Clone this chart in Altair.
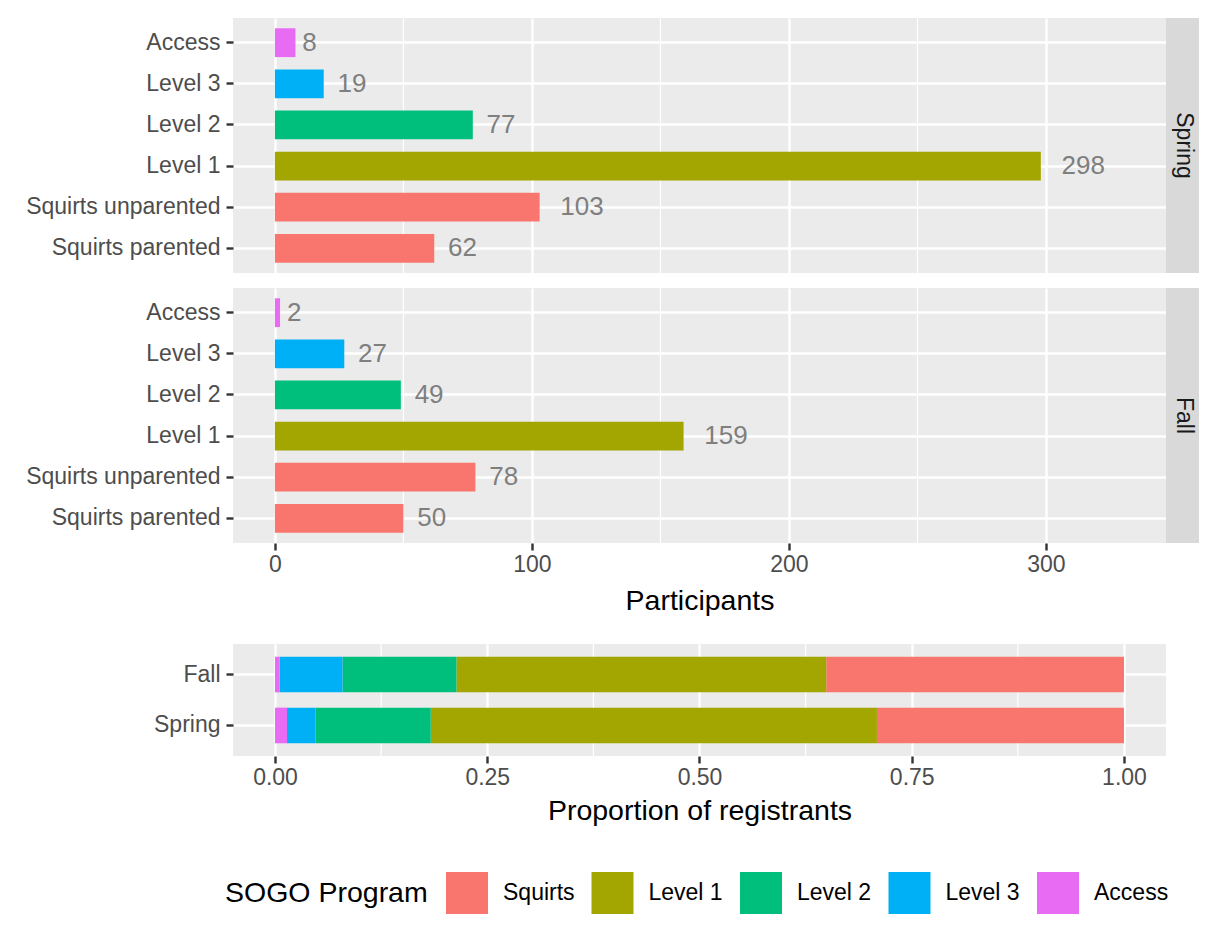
import altair as alt
import pandas as pd

# ---------------- data ----------------
categories = ["Squirts parented", "Squirts unparented", "Level 1", "Level 2", "Level 3", "Access"]
category_program = ["Squirts", "Squirts", "Level 1", "Level 2", "Level 3", "Access"]
spring_counts = [62, 103, 298, 77, 19, 8]
fall_counts = [50, 78, 159, 49, 27, 2]
seasons = ["Spring", "Fall"]
programs = ["Squirts", "Level 1", "Level 2", "Level 3", "Access"]
program_colors = ["#F8766D", "#A3A500", "#00BF7D", "#00B0F6", "#E76BF3"]
participant_ticks = [0, 100, 200, 300]
proportion_ticks = [0, 0.25, 0.5, 0.75, 1.0]

rows = []
for season, counts in zip(seasons, [spring_counts, fall_counts]):
    for cat, prog, n in zip(categories, category_program, counts):
        rows.append({"season": season, "category": cat, "program": prog, "n": n,
                     "stack_rank": programs[::-1].index(prog)})
df = pd.DataFrame(rows)

def midpoints(t):
    return [(a + b) / 2 for a, b in zip(t, t[1:])]

minor_counts = pd.DataFrame({"v": midpoints(participant_ticks)})
minor_props = pd.DataFrame({"v": midpoints(proportion_ticks)})

# ---------------- style ----------------
FONT = "Liberation Sans"
W, H = 933, 255
H2 = 112
STRIP = 33
GRID_MAJOR = 2.4
GRID_MINOR = 1.2
AXIS_TEXT = "#4D4D4D"
TICK = "#333333"

cat_order = list(reversed(categories))
count_domain = [-16.3, 346.7]
prop_domain = [-0.0495, 1.0495]

legend = alt.Legend(
    title="SOGO Program", orient="none", legendX=-8, legendY=854,
    direction="horizontal", titleOrient="left", titleAnchor="middle",
    titleFontSize=28.5, titleFontWeight="normal", titleColor="black", titlePadding=18,
    titleFont=FONT, labelFont=FONT, titleLimit=0, labelLimit=0,
    labelFontSize=23, labelColor="black", labelOffset=15, labelBaseline="middle",
    symbolType="square", symbolSize=1764, symbolStrokeWidth=0, symbolOpacity=1,
    columnPadding=16.5, padding=0,
)
color_enc = alt.Color("program:N", scale=alt.Scale(domain=programs, range=program_colors),
                      legend=legend)


def count_x_axis(show):
    if show:
        return alt.Axis(values=participant_ticks, grid=True, title="Participants",
                        titlePadding=10)
    return alt.Axis(values=participant_ticks, grid=True, labels=False, ticks=False, title=None)


def count_panel(season, show_x):
    xscale = alt.Scale(domain=count_domain, nice=False, zero=False)
    y_enc = alt.Y("category:N", sort=cat_order,
                  scale=alt.Scale(paddingInner=0.3, paddingOuter=0.25),
                  axis=alt.Axis(title=None, grid=True))
    data = df[df["season"] == season]

    minor = alt.Chart(minor_counts).mark_rule(color="white", strokeWidth=GRID_MINOR).encode(
        x=alt.X("v:Q", scale=xscale, axis=count_x_axis(show_x))
    )
    bars = alt.Chart(data).mark_bar().encode(
        x=alt.X("n:Q", scale=xscale, axis=count_x_axis(show_x)),
        y=y_enc,
        color=color_enc,
    )
    labels = alt.Chart(data).transform_calculate(
        label_x="datum.n + 5.5 * length(toString(datum.n))"
    ).mark_text(align="center", baseline="middle", fontSize=26, color="#7F7F7F", font=FONT).encode(
        x=alt.X("label_x:Q", scale=xscale, axis=count_x_axis(show_x)),
        y=y_enc,
        text="n:Q",
    )
    strip_df = pd.DataFrame({"season": [season]})
    strip = alt.Chart(strip_df).mark_rect(color="#D9D9D9").encode(
        x=alt.value(W), x2=alt.value(W + STRIP), y=alt.value(0), y2=alt.value(H)
    )
    strip_text = alt.Chart(strip_df).mark_text(
        angle=90, fontSize=23, color="#1A1A1A", baseline="middle", align="center", font=FONT
    ).encode(x=alt.value(W + 18), y=alt.value(H / 2), text="season:N")
    return alt.layer(minor, bars, labels, strip, strip_text).properties(width=W, height=H)


spring_panel = count_panel("Spring", False)
fall_panel = count_panel("Fall", True)

# ---------------- proportion chart ----------------
pscale = alt.Scale(domain=prop_domain, nice=False, zero=False)
p_axis = alt.Axis(values=proportion_ticks, format=".2f", grid=True,
                  title="Proportion of registrants", titlePadding=7)
pminor = alt.Chart(minor_props).mark_rule(color="white", strokeWidth=GRID_MINOR).encode(
    x=alt.X("v:Q", scale=pscale, axis=p_axis)
)
pbars = alt.Chart(df).transform_aggregate(
    total="sum(n)", groupby=["season", "program", "stack_rank"]
).mark_bar().encode(
    x=alt.X("total:Q", stack="normalize", scale=pscale, axis=p_axis),
    y=alt.Y("season:N", sort=["Fall", "Spring"],
            scale=alt.Scale(paddingInner=0.3, paddingOuter=0.25),
            axis=alt.Axis(title=None, grid=True)),
    color=color_enc,
    order=alt.Order("stack_rank:Q", sort="ascending"),
)
prop_chart = alt.layer(pminor, pbars).properties(width=W, height=H2)

top = alt.vconcat(spring_panel, fall_panel, spacing=13)
chart = alt.vconcat(top, prop_chart, spacing=28).properties(
    padding={"left": 17, "top": 9, "right": 0, "bottom": 5}
).configure(font=FONT).configure_view(
    fill="#EBEBEB", stroke=None
).configure_axis(
    gridColor="white", gridWidth=GRID_MAJOR, tickColor=TICK, tickWidth=GRID_MAJOR, tickSize=7,
    labelFontSize=23, labelColor=AXIS_TEXT, labelFont=FONT, domain=False, labelLimit=0,
    titleFontSize=28.5, titleFontWeight="normal", titleColor="black", titleFont=FONT,
).configure_axisX(labelPadding=3).configure_axisY(labelPadding=6)

chart.save("out.html", embed_options={"renderer": "svg", "actions": False})
